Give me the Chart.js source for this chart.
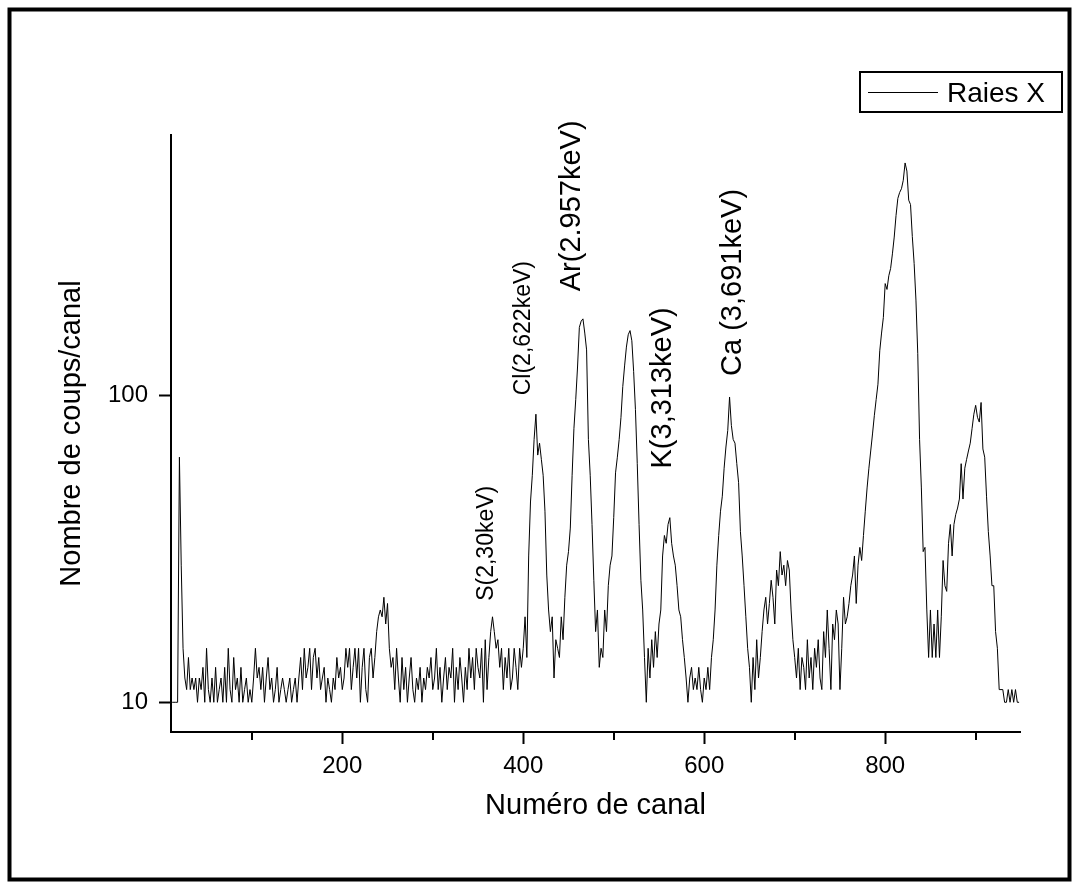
<!DOCTYPE html>
<html>
<head>
<meta charset="utf-8">
<script src="https://cdn.jsdelivr.net/npm/chart.js@4.4.1/dist/chart.umd.min.js"></script>
<style>
  body { margin: 0; background: #fff; }
  canvas { display: block; }
</style>
</head>
<body>
<canvas id="spectre" width="1079" height="889"></canvas>
<script>
// comptes par canal (canaux 12, 14, ... 948)
const counts = [
  10, 10, 10, 10, 63, 28, 15, 12, 11, 14,
  11, 12, 11, 12, 10, 12, 11, 13, 10, 15,
  11, 10, 12, 10, 13, 10, 11, 12, 10, 13,
  10, 15, 11, 10, 14, 11, 12, 10, 13, 10,
  11, 12, 10, 11, 10, 12, 15, 12, 13, 11,
  13, 10, 12, 14, 11, 12, 10, 11, 13, 10,
  11, 12, 11, 10, 11, 12, 10, 11, 12, 10,
  12, 14, 11, 15, 12, 13, 15, 11, 14, 15,
  12, 14, 11, 12, 13, 10, 12, 11, 10, 12,
  11, 14, 12, 13, 11, 12, 15, 13, 15, 11,
  13, 15, 12, 15, 10, 13, 15, 11, 10, 14,
  15, 12, 14, 17, 19, 20, 19, 22, 18, 21,
  15, 13, 14, 11, 15, 12, 10, 14, 11, 13,
  10, 12, 14, 11, 10, 12, 11, 13, 10, 12,
  11, 13, 12, 14, 11, 12, 15, 11, 13, 10,
  12, 14, 11, 13, 12, 15, 10, 13, 11, 14,
  12, 10, 13, 11, 15, 12, 14, 11, 15, 13,
  12, 15, 10, 16, 11, 14, 17, 19, 17, 15,
  16, 13, 15, 11, 14, 12, 15, 11, 12, 15,
  13, 11, 15, 13, 15, 19, 14, 30, 45, 55,
  72, 87, 64, 70, 62, 55, 42, 26, 20, 17,
  19, 12, 16, 15, 14, 19, 16, 22, 28, 31,
  37, 55, 78, 97, 124, 167, 175, 178, 160, 141,
  72, 55, 38, 25, 17, 20, 13, 15, 14, 20,
  17, 24, 28, 30, 40, 56, 63, 72, 85, 107,
  125, 144, 158, 163, 151, 120, 90, 60, 38, 25,
  20, 14, 10, 15, 12, 16, 13, 17, 14, 18,
  20, 30, 35, 33, 38, 40, 33, 30, 28, 24,
  20, 19, 16, 14, 12, 10, 12, 13, 11, 12,
  11, 13, 11, 10, 12, 11, 13, 11, 14, 16,
  20, 28, 35, 42, 47, 58, 68, 77, 99, 80,
  72, 70, 60, 52, 36, 30, 24, 19, 15, 13,
  10, 14, 11, 16, 12, 14, 17, 20, 22, 18,
  21, 25, 22, 18, 27, 24, 31, 26, 28, 24,
  29, 27, 20, 16, 14, 12, 15, 11, 14, 13,
  11, 16, 12, 14, 11, 15, 13, 16, 12, 11,
  17, 14, 20, 15, 11, 18, 16, 20, 18, 11,
  15, 22, 18, 19, 21, 24, 26, 30, 21, 28,
  32, 29, 35, 42, 50, 58, 66, 75, 86, 97,
  109, 140, 160, 180, 232, 222, 246, 260, 290, 329,
  387, 440, 460, 473, 504, 574, 540, 434, 420, 330,
  270, 205, 137, 72, 50, 31, 32, 20, 14, 20,
  14, 18, 14, 20, 14, 19, 29, 24, 23, 33,
  38, 30, 38, 41, 43, 46, 60, 46, 58, 62,
  66, 70, 78, 87, 93, 85, 82, 95, 67, 63,
  47, 36, 30, 24, 24, 17, 15, 11, 11, 11,
  10, 10, 11, 10, 11, 10, 11, 10, 10
];
const channels = counts.map((c, i) => 12 + 2 * i);

const xTicks = [100, 200, 300, 400, 500, 600, 700, 800, 900];
const yTicks = [10, 100];
const seriesName = 'Raies X';

// raies identifiees (position en canal / comptes)
const peakLabels = [
  { text: 'S(2,30keV)', ch: 360, y: 33, size: 23 },
  { text: 'Cl(2,622keV)', ch: 401, y: 166, size: 23 },
  { text: 'Ar(2.957keV)', ch: 453.5, y: 416, size: 29 },
  { text: 'K(3,313keV)', ch: 554, y: 106, size: 29 },
  { text: 'Ca (3,691keV)', ch: 632, y: 234, size: 29 }
];

const FONT = "'Liberation Sans', Arial, sans-serif";
Chart.defaults.font.family = FONT;
Chart.defaults.color = '#000';

const decor = {
  id: 'decor',
  afterDraw(chart) {
    const ctx = chart.ctx;
    const xs = chart.scales.x, ys = chart.scales.y;
    const area = chart.chartArea;
    ctx.save();

    // petites graduations
    ctx.strokeStyle = '#000';
    ctx.lineWidth = 2;
    xTicks.filter(v => v % 200 !== 0).forEach(v => {
      const x = Math.round(xs.getPixelForValue(v));
      ctx.beginPath();
      ctx.moveTo(x, area.bottom);
      ctx.lineTo(x, area.bottom + 8);
      ctx.stroke();
    });

    // etiquettes des raies
    ctx.fillStyle = '#000';
    ctx.textAlign = 'center';
    ctx.textBaseline = 'middle';
    peakLabels.forEach(p => {
      ctx.save();
      ctx.translate(xs.getPixelForValue(p.ch), ys.getPixelForValue(p.y));
      ctx.rotate(-Math.PI / 2);
      ctx.font = p.size + 'px ' + FONT;
      ctx.fillText(p.text, 0, 0);
      ctx.restore();
    });

    // legende
    ctx.lineWidth = 2;
    ctx.strokeRect(860, 72, 202, 40);
    ctx.lineWidth = 1;
    ctx.beginPath();
    ctx.moveTo(868, 92.5);
    ctx.lineTo(938, 92.5);
    ctx.stroke();
    ctx.font = '28px ' + FONT;
    ctx.textAlign = 'left';
    ctx.textBaseline = 'alphabetic';
    ctx.fillText(seriesName, 947, 102);

    // cadre
    ctx.lineWidth = 4;
    ctx.strokeRect(9.5, 9.5, 1060, 870);
    ctx.restore();
  }
};

new Chart(document.getElementById('spectre'), {
  type: 'line',
  data: {
    datasets: [{
      label: seriesName,
      data: channels.map((ch, i) => ({ x: ch, y: counts[i] })),
      borderColor: '#000',
      borderWidth: 1,
      pointRadius: 0,
      tension: 0,
      fill: false
    }]
  },
  options: {
    responsive: false,
    animation: false,
    layout: { padding: { top: 135, right: 59, left: 0, bottom: 0 } },
    plugins: {
      legend: { display: false },
      tooltip: { enabled: false }
    },
    scales: {
      x: {
        type: 'linear',
        min: 10.7,
        max: 949,
        afterBuildTicks: s => { s.ticks = xTicks.map(v => ({ value: v })); },
        afterFit: s => { s.height = 157; },
        grid: {
          drawOnChartArea: false,
          tickLength: 12,
          tickWidth: 2,
          tickColor: c => (c.tick && c.tick.value % 200 === 0) ? '#000' : 'rgba(0,0,0,0)'
        },
        border: { color: '#000', width: 2 },
        ticks: {
          autoSkip: false,
          maxRotation: 0,
          padding: 8,
          font: { size: 24 },
          callback: v => (v % 200 === 0 ? String(v) : '')
        },
        title: {
          display: true,
          text: 'Numéro de canal',
          font: { size: 29 },
          padding: { top: 0, bottom: 66 }
        }
      },
      y: {
        type: 'logarithmic',
        min: 8,
        max: 708,
        afterBuildTicks: s => { s.ticks = yTicks.map(v => ({ value: v })); },
        afterFit: s => { s.width = 171; },
        grid: {
          drawOnChartArea: false,
          tickLength: 12,
          tickWidth: 2,
          tickColor: '#000'
        },
        border: { color: '#000', width: 2 },
        ticks: {
          padding: 11,
          font: { size: 24 },
          callback: v => String(v)
        },
        title: {
          display: true,
          text: 'Nombre de coups/canal',
          font: { size: 29 },
          padding: { top: 55, bottom: 0 }
        }
      }
    }
  },
  plugins: [decor]
});
</script>
</body>
</html>
